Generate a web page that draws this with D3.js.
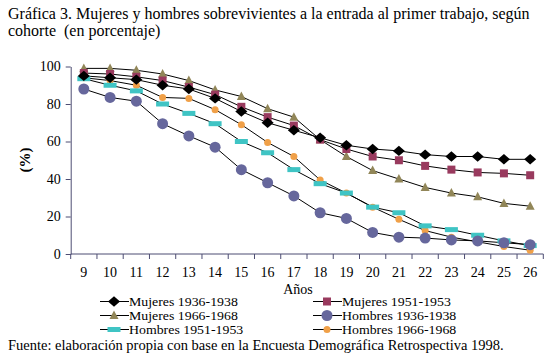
<!DOCTYPE html>
<html>
<head>
<meta charset="utf-8">
<script src="https://cdn.jsdelivr.net/npm/d3@7"></script>
<style>
  body { margin: 0; background: #fff; }
</style>
</head>
<body>
<div id="chart"></div>
<script>
// data
const years = [9, 10, 11, 12, 13, 14, 15, 16, 17, 18, 19, 20, 21, 22, 23, 24, 25, 26];
const mujeres3638 = [95, 94, 93, 90, 88, 83, 76, 70, 66, 62, 58, 56, 55, 53, 52, 52, 50.5, 50.5];
const mujeres5153 = [96.5, 96, 94.5, 92.5, 89, 85, 78.5, 73, 68.5, 61, 56, 52, 50, 47, 45, 43.5, 43, 42];
const mujeres6668 = [99, 99, 98, 96, 92.5, 87.5, 84, 77.5, 73, 61, 52, 44.5, 40, 35.5, 32.5, 30.5, 27, 25.5];
const hombres3638 = [88, 83.5, 81.5, 69.5, 63, 57, 45, 38, 31, 22, 19, 11.5, 9, 8.5, 7.5, 7, 6, 5];
const hombres5153 = [93.5, 90, 87, 80, 75, 69.5, 60, 54, 45, 37.5, 32.5, 25, 22, 15, 13, 10, 7, 4.5];
const hombres6668 = [94, 92.5, 90, 83.5, 83, 77, 69, 59.5, 52, 39.5, 32.5, 25, 18.5, 12.5, 9, 6.5, 4, 2];
const yTicks = [0, 20, 40, 60, 80, 100];

const series = [
  { name: "Mujeres 1936-1938", values: mujeres3638, shape: "diamond", color: "#000000" },
  { name: "Mujeres 1951-1953", values: mujeres5153, shape: "square", color: "#993a5e" },
  { name: "Mujeres 1966-1968", values: mujeres6668, shape: "triangle", color: "#918658" },
  { name: "Hombres 1936-1938", values: hombres3638, shape: "circle", color: "#66679c" },
  { name: "Hombres 1951-1953", values: hombres5153, shape: "dash", color: "#3fc4c4" },
  { name: "Hombres 1966-1968", values: hombres6668, shape: "dot", color: "#f0a048" }
];

const FONT = "'Liberation Serif', 'Times New Roman', serif";
const W = 560, H = 361;
const svg = d3.select("#chart").append("svg")
  .attr("width", W).attr("height", H)
  .attr("font-family", FONT);

// title
svg.append("text").attr("x", 8).attr("y", 19)
  .attr("font-size", 16)
  .text("Gráfica 3. Mujeres y hombres sobrevivientes a la entrada al primer trabajo, según");
svg.append("text").attr("x", 8).attr("y", 36)
  .attr("font-size", 16)
  .style("white-space", "pre")
  .text("cohorte  (en porcentaje)");

const plotL = 70.7, plotR = 543.3, plotT = 66.5, plotB = 254;
const axisColor = "#4d4d73";

const x = d3.scaleBand().domain(years).range([plotL, plotR]);
const y = d3.scaleLinear().domain([0, 100]).range([plotB, plotT]);

// y axis
const yAxis = svg.append("g")
  .attr("transform", `translate(${plotL},0)`)
  .call(d3.axisLeft(y).tickValues(yTicks).tickSize(5).tickSizeOuter(0))
  .attr("font-family", FONT).attr("font-size", 14);
yAxis.select(".domain").attr("stroke", axisColor);
yAxis.selectAll(".tick line").attr("stroke", axisColor);
yAxis.selectAll(".tick text").attr("x", -10).attr("fill", "#000");

// x axis, ticks at band boundaries
const xAxis = svg.append("g").attr("transform", `translate(0,${plotB})`);
xAxis.append("line").attr("x1", plotL).attr("x2", plotR)
  .attr("stroke", axisColor);
xAxis.selectAll("line.tk").data(years.concat(["end"])).join("line")
  .attr("class", "tk")
  .attr("x1", d => d === "end" ? plotR : x(d))
  .attr("x2", d => d === "end" ? plotR : x(d))
  .attr("y1", 0).attr("y2", 5).attr("stroke", axisColor);
xAxis.selectAll("text").data(years).join("text")
  .attr("x", d => x(d) + x.bandwidth() / 2)
  .attr("y", 23)
  .attr("text-anchor", "middle")
  .attr("font-size", 14)
  .text(d => d);

// axis titles
svg.append("text").attr("x", 298).attr("y", 294)
  .attr("text-anchor", "middle").attr("font-size", 14).text("Años");
svg.append("text")
  .attr("transform", "translate(30,160) rotate(-90)")
  .attr("text-anchor", "middle")
  .attr("font-size", 15).attr("font-weight", "bold")
  .text("(%)");

function drawMarker(g, shape, color) {
  if (shape === "diamond") {
    g.append("path").attr("d", d3.symbol(d3.symbolDiamond2, 70)())
      .attr("fill", color).attr("transform", "scale(1.15,1)");
  } else if (shape === "square") {
    g.append("rect").attr("x", -4).attr("y", -4).attr("width", 8).attr("height", 8)
      .attr("fill", color);
  } else if (shape === "triangle") {
    g.append("path").attr("d", "M0,-5L4.5,3.5L-4.5,3.5Z").attr("fill", color);
  } else if (shape === "circle") {
    g.append("circle").attr("r", 5.5).attr("fill", color);
  } else if (shape === "dash") {
    g.append("rect").attr("x", -6.5).attr("y", -2.5).attr("width", 13).attr("height", 5)
      .attr("fill", color);
  } else if (shape === "dot") {
    g.append("circle").attr("r", 3.5).attr("fill", color);
  }
}

const cx = d => x(d) + x.bandwidth() / 2;
const line = d3.line().x((d, i) => cx(years[i])).y(d => y(d));

series.forEach(s => {
  svg.append("path").datum(s.values)
    .attr("d", line).attr("fill", "none")
    .attr("stroke", "#000").attr("stroke-width", 1);
});
series.slice().reverse().forEach(s => {
  svg.append("g").selectAll("g").data(s.values).join("g")
    .attr("transform", (d, i) => `translate(${cx(years[i])},${y(d)})`)
    .each(function () { drawMarker(d3.select(this), s.shape, s.color); });
});

// legend
const legCols = [100, 313];
const legRows = [301.5, 315.5, 329.5];
series.forEach((s, i) => {
  const lx = legCols[i % 2], ly = legRows[Math.floor(i / 2)];
  const g = svg.append("g");
  g.append("line").attr("x1", lx).attr("x2", lx + 29)
    .attr("y1", ly).attr("y2", ly).attr("stroke", "#000");
  const m = g.append("g").attr("transform", `translate(${lx + 14},${ly})`);
  drawMarker(m, s.shape, s.color);
  g.append("text")
    .attr("transform", `translate(${lx + 29},${ly + 4.3}) scale(1.1,1)`)
    .attr("font-size", 12.6).text(s.name);
});

// source
svg.append("text").attr("x", 8).attr("y", 349.5)
  .attr("font-size", 14.5)
  .text("Fuente: elaboración propia con base en la Encuesta Demográfica Retrospectiva 1998.");
</script>
</body>
</html>
